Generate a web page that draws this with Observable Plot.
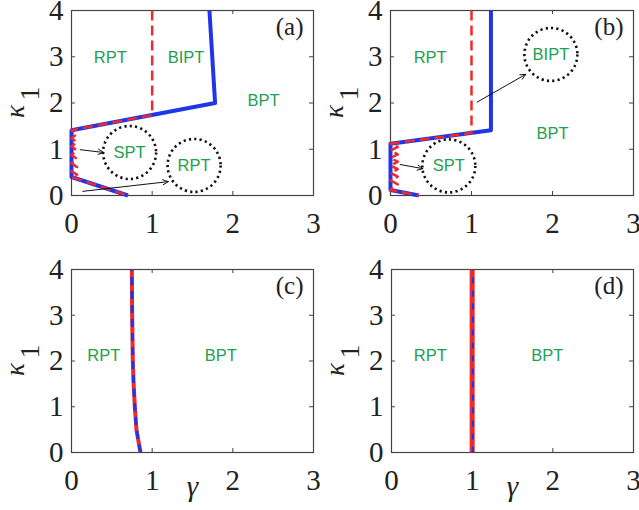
<!DOCTYPE html>
<html>
<head>
<meta charset="utf-8">
<script src="https://cdn.jsdelivr.net/npm/d3@7"></script>
<script src="https://cdn.jsdelivr.net/npm/@observablehq/plot@0.6"></script>
<style>
  html, body { margin: 0; padding: 0; background: #fff; }
  #wrap { position: relative; width: 639px; height: 510px; overflow: hidden; background: #fff; }
  #wrap svg { position: absolute; }
</style>
</head>
<body>
<div id="wrap"></div>
<script>
// ---- tick values ----
const gammaTicks = [0, 1, 2, 3];
const kappaTicks = [0, 1, 2, 3, 4];

// ---- panel (a) ----
const aBlueG = [0.70, 0.00, 0.00, 1.78, 1.71];
const aBlueK = [0.00, 0.40, 1.41, 2.00, 4.00];
const aRedG = [1.00, 1.00, 0.00, 0.07, 0.00, 0.07, 0.00, 0.07, 0.00, 0.07, 0.00, 0.07, 0.00, 0.07, 0.00, 0.70];
const aRedK = [4.00, 1.74, 1.41, 1.33, 1.24, 1.15, 1.06, 0.97, 0.88, 0.79, 0.70, 0.61, 0.52, 0.45, 0.40, 0.00];
const aLabelText = ["RPT", "BIPT", "BPT", "SPT", "RPT"];
const aLabelG = [0.48, 1.42, 2.38, 0.72, 1.52];
const aLabelK = [2.98, 2.98, 2.05, 0.93, 0.65];
const aCircleG = [0.72, 1.52];
const aCircleK = [0.93, 0.65];
const aArrowG1 = [0.11, 0.14];
const aArrowK1 = [0.99, 0.09];
const aArrowG2 = [0.40, 1.20];
const aArrowK2 = [0.93, 0.30];

// ---- panel (b) ----
const bBlueG = [0.35, 0.00, 0.00, 1.24, 1.24];
const bBlueK = [0.00, 0.12, 1.12, 1.41, 4.00];
const bRedG = [1.00, 1.00, 0.00, 0.09, 0.00, 0.09, 0.00, 0.09, 0.00, 0.09, 0.00, 0.09, 0.00, 0.09, 0.00, 0.35];
const bRedK = [4.00, 1.35, 1.12, 1.05, 0.97, 0.89, 0.81, 0.73, 0.65, 0.57, 0.49, 0.41, 0.33, 0.24, 0.12, 0.00];
const bLabelText = ["RPT", "BPT", "SPT", "BIPT"];
const bLabelG = [0.49, 2.00, 0.72, 1.98];
const bLabelK = [2.98, 1.34, 0.64, 3.05];
const bCircleG = [0.72, 1.98];
const bCircleK = [0.64, 3.05];
const bArrowG1 = [0.12, 1.07];
const bArrowK1 = [0.67, 2.02];
const bArrowG2 = [0.40, 1.67];
const bArrowK2 = [0.58, 2.62];

// ---- panel (c) ----
const cCurveG = [0.855, 0.830, 0.805, 0.785, 0.770, 0.760, 0.752, 0.748];
const cCurveK = [0.00, 0.25, 0.50, 1.00, 1.50, 2.00, 3.00, 4.00];
const cLabelText = ["RPT", "BPT"];
const cLabelG = [0.40, 1.85];
const cLabelK = [2.12, 2.12];

// ---- panel (d) ----
const dRedG = [1.00, 1.00];
const dRedK = [0.00, 4.00];
const dBlueG = [1.01, 1.01];
const dBlueK = [0.00, 4.00];
const dLabelText = ["RPT", "BPT"];
const dLabelG = [0.48, 1.93];
const dLabelK = [2.12, 2.12];

// ---- helpers ----
const BLUE = "#1f35e8";
const RED = "#ee2a2a";
const GREEN = "#22a052";
const INK = "#222";
const zip = (g, k) => g.map((v, i) => ({g: v, k: k[i]}));
const zipLabels = (t, g, k) => t.map((v, i) => ({t: v, g: g[i], k: k[i]}));
const zipArrows = (g1, k1, g2, k2) => g1.map((v, i) => ({g1: v, k1: k1[i], g2: g2[i], k2: k2[i]}));

function panel(cfg) {
  const W = cfg.width - cfg.mL - cfg.mR;
  const H = cfg.height - cfg.mT - cfg.mB;
  const marks = [
    Plot.frame({stroke: "#444", strokeWidth: 1.2}),
    Plot.ruleX(gammaTicks.slice(1, -1), {x: d => d, insetTop: H - 4, stroke: "#444"}),
    Plot.ruleX(gammaTicks.slice(1, -1), {x: d => d, insetBottom: H - 4, stroke: "#444"}),
    Plot.ruleY(kappaTicks.slice(1, -1), {y: d => d, insetRight: W - 4, stroke: "#444"}),
    Plot.ruleY(kappaTicks.slice(1, -1), {y: d => d, insetLeft: W - 4, stroke: "#444"}),
    Plot.axisX(gammaTicks, {anchor: "bottom", tickSize: 0, tickPadding: 17, fontSize: 29, label: null, fill: INK}),
    Plot.axisY(kappaTicks, {anchor: "left", tickSize: 0, tickPadding: 8, fontSize: 29, label: null, fill: INK}),
    ...cfg.lines.map(l => Plot.line(l.data, {x: "g", y: "k", stroke: l.stroke, strokeWidth: l.width, strokeDasharray: l.dash, strokeLinejoin: "round", strokeLinecap: "butt"})),
  ];
  if (cfg.circles) marks.push(Plot.dot(cfg.circles, {x: "g", y: "k", r: 26.5, stroke: "#111", strokeWidth: 2.6, strokeDasharray: "2.2,3.2", fill: "none"}));
  if (cfg.arrows) marks.push(Plot.arrow(cfg.arrows, {x1: "g1", y1: "k1", x2: "g2", y2: "k2", stroke: "#111", strokeWidth: 1, headLength: 9, headAngle: 50}));
  marks.push(Plot.text(cfg.labels, {x: "g", y: "k", text: "t", fill: GREEN, fontSize: 16.5, fontFamily: "Liberation Sans", textAnchor: "middle", lineAnchor: "middle"}));
  marks.push(Plot.text([cfg.letter], {text: d => d, frameAnchor: "top-right", textAnchor: "end", lineAnchor: "top", dx: -10, dy: 7, fontSize: 25, fill: INK}));
  marks.push(Plot.text(["κ"], {text: d => d, frameAnchor: "left", textAnchor: "middle", lineAnchor: "middle", rotate: -90, dx: -56, dy: 8.5, fontSize: 27, fontStyle: "italic", fill: INK}));
  marks.push(Plot.text(["1"], {text: d => d, frameAnchor: "left", textAnchor: "middle", lineAnchor: "middle", rotate: -90, dx: -41, dy: -9.5, fontSize: 28, fill: INK}));
  if (cfg.gamma) marks.push(Plot.text(["γ"], {text: d => d, frameAnchor: "bottom", textAnchor: "middle", lineAnchor: "middle", dy: 34, fontSize: 29, fontStyle: "italic", fill: INK}));

  const svg = Plot.plot({
    width: cfg.width,
    height: cfg.height,
    marginLeft: cfg.mL, marginRight: cfg.mR, marginTop: cfg.mT, marginBottom: cfg.mB,
    x: {domain: [0, 3]},
    y: {domain: [0, 4]},
    style: {fontFamily: "Liberation Serif", fontSize: "29px", background: "transparent", overflow: "visible", color: INK},
    marks
  });
  svg.style.left = cfg.left + "px";
  svg.style.top = cfg.top + "px";
  svg.style.maxWidth = "none";
  document.getElementById("wrap").appendChild(svg);
}

panel({
  left: 0, top: 0, width: 320, height: 250, mL: 71, mR: 7, mT: 10, mB: 55,
  lines: [
    {data: zip(aBlueG, aBlueK), stroke: BLUE, width: 4},
    {data: zip(aRedG, aRedK), stroke: RED, width: 2.5, dash: "10,5"}
  ],
  labels: zipLabels(aLabelText, aLabelG, aLabelK),
  circles: zip(aCircleG, aCircleK),
  arrows: zipArrows(aArrowG1, aArrowK1, aArrowG2, aArrowK2),
  letter: "(a)"
});

panel({
  left: 320, top: 0, width: 319, height: 250, mL: 70, mR: 6, mT: 10, mB: 55,
  lines: [
    {data: zip(bBlueG, bBlueK), stroke: BLUE, width: 4},
    {data: zip(bRedG, bRedK), stroke: RED, width: 2.5, dash: "10,5"}
  ],
  labels: zipLabels(bLabelText, bLabelG, bLabelK),
  circles: zip(bCircleG, bCircleK),
  arrows: zipArrows(bArrowG1, bArrowK1, bArrowG2, bArrowK2),
  letter: "(b)"
});

panel({
  left: 0, top: 250, width: 320, height: 260, mL: 71, mR: 7, mT: 19, mB: 58,
  lines: [
    {data: zip(cCurveG, cCurveK), stroke: RED, width: 4},
    {data: zip(cCurveG, cCurveK), stroke: BLUE, width: 3, dash: "8,6"}
  ],
  labels: zipLabels(cLabelText, cLabelG, cLabelK),
  letter: "(c)",
  gamma: true
});

panel({
  left: 320, top: 250, width: 319, height: 260, mL: 71, mR: 6, mT: 19, mB: 58,
  lines: [
    {data: zip(dRedG, dRedK), stroke: RED, width: 5},
    {data: zip(dBlueG, dBlueK), stroke: BLUE, width: 2, dash: "6,7"}
  ],
  labels: zipLabels(dLabelText, dLabelG, dLabelK),
  letter: "(d)",
  gamma: true
});
</script>
</body>
</html>
